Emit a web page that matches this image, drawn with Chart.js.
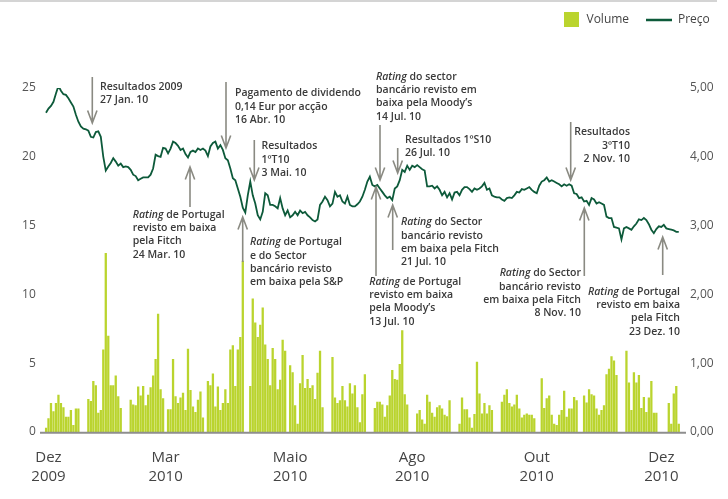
<!DOCTYPE html>
<html>
<head>
<meta charset="utf-8">
<script src="https://cdn.jsdelivr.net/npm/chart.js@4.4.1/dist/chart.umd.min.js"></script>
<style>
  html, body { margin: 0; padding: 0; background: #fff; }
  #wrap { position: relative; width: 728px; height: 499px; }
  #topRule { position: absolute; left: 0; top: 0; width: 717px; height: 2px; background: #d4d4d4; }
  #chart { position: absolute; left: 0; top: 0; }
</style>
</head>
<body>
<div id="wrap">
  <div id="topRule"></div>
  <canvas id="chart" width="728" height="499"></canvas>
</div>
<script>
// Volume (millions), one value per trading day, null where no bar is drawn
const volume = [
  0.3, 1.0, 2.1, 1.5, 2.1, 2.7, 2.1, 1.8, 1.1, 1.1, 1.6, 0.5, 1.7, 1.7, null, null, null,
  2.4, 2.25, 3.7, 3.4, 1.4, 1.6, 6.0, 13.0, 7.0, 3.4, 3.4, 4.1, 2.6, 1.75, null, null, null,
  2.35, 2.0, 1.95, 3.3, 2.65, 3.35, 1.95, 2.7, 3.25, 4.1, 5.3, 8.6, 3.1, 2.45, null,
  1.65, 1.65, 5.3, 2.6, 2.1, 2.5, 2.85, 1.6, 6.05, 3.05, 1.85, 1.45, 2.35, 2.95, 1.05, null,
  3.7, 3.4, 4.25, 1.85, 3.3, 1.6, 2.1, 3.1, 2.1,
  6.0, 6.3, 3.35, 6.0, 6.9, 12.45, null, null,
  3.35, 9.7, 7.95, 6.9, 7.8, 9.05, 6.35, 5.3, 3.4, 6.1, 5.3, 3.1, 3.8, 6.7, 5.9, null,
  4.85, 4.35, 1.95, 0.6, 3.55, 5.6, 3.2, 3.85, 3.2, 3.4, 2.4, 4.3, 5.9, 1.8, null, null, null,
  5.45, 2.5, 2.1, 2.3, 3.35, 2.3, 1.85, 3.55, 2.8, 3.4, 1.8, 0.7, 2.75, 4.2, null, null, null,
  1.75, 2.2, 2.2, 2.0, 1.1, 1.95, 2.65, 4.5, 3.85, 3.8, 4.95, 7.4, 2.75, 2.0, null, null, null,
  1.35, 1.6, 0.9, 0.6, 2.7, 2.2, 1.4, 1.1, 1.8, 1.95, 1.7, 1.25, 1.15, 2.3, null, null, null,
  0.6, 2.5, 1.65, 1.65, 1.05, 0.3, 1.3, 5.1,
  2.8, 1.35, 2.1, 1.35, 1.95, 1.6, null, null, null,
  2.2, 2.7, 3.1, 2.1, 1.85, 2.0, 2.7, 1.7, 1.05, 1.25, 1.35, 1.25, 1.25, 1.0, null, null,
  3.9, 1.75, 2.45, 2.65, 1.25, 0.6, 0.5, 1.25, 1.6, 3.0, 1.1, 1.7, 1.7, 2.55, 2.3, null, null,
  2.65, 2.15, 3.1, 2.75, 2.65, 1.7, 1.25, 1.6, 1.95, 4.2, 4.6, 5.5, 5.2, 4.15, null, null, null,
  5.9, 3.6, 1.6, 4.35, 3.6, 4.15, 1.75, 2.55, 1.45, 2.5, 3.7, 1.4, 1.4, null, null, null, null,
  2.1, 0.6, 2.8, 3.35, 0.6
];

// Share price (EUR), same days
const price = [
  4.64, 4.70, 4.74, 4.80, 4.92, 5.03, 4.96, 4.91, 4.90, 4.85,
  4.79, 4.73, 4.61, 4.51, 4.44, 4.41, 4.40, 4.38, 4.29, 4.28,
  4.36, 4.37, 4.29, 4.00, 3.80, 3.86, 3.91, 3.98, 3.93, 3.87,
  3.90, 3.85, 3.86, 3.85, 3.81, 3.74, 3.72, 3.66, 3.68, 3.70,
  3.70, 3.70, 3.74, 3.83, 4.03, 4.01, 4.00, 4.13, 4.12, 4.05,
  4.12, 4.22, 4.20, 4.16, 4.10, 4.12, 4.04, 3.99, 4.07, 4.09,
  4.07, 4.12, 4.10, 4.12, 4.09, 4.01, 4.15, 4.20, 4.22, 4.12,
  4.17, 4.10, 3.98, 3.95, 3.83, 3.69, 3.66, 3.54, 3.42, 3.26,
  3.19, 3.44, 3.64, 3.44, 3.32, 3.15, 3.09, 3.20, 3.47, 3.44,
  3.30, 3.30, 3.28, 3.25, 3.40, 3.25, 3.15, 3.22, 3.12, 3.15,
  3.20, 3.15, 3.22, 3.18, 3.20, 3.15, 3.12, 3.08, 3.06, 3.09,
  3.30, 3.35, 3.42, 3.37, 3.28, 3.32, 3.49, 3.42, 3.44, 3.35,
  3.32, 3.42, 3.30, 3.28, 3.28, 3.31, 3.35, 3.42, 3.52, 3.64,
  3.71, 3.59, 3.57, 3.59, 3.54, 3.49, 3.44, 3.40, 3.42, 3.37,
  3.54, 3.57, 3.66, 3.81, 3.78, 3.87, 3.81, 3.87, 3.85, 3.88,
  3.85, 3.82, 3.80, 3.57, 3.57, 3.58, 3.54, 3.57, 3.52, 3.44,
  3.49, 3.41, 3.47, 3.38, 3.48, 3.49, 3.44, 3.52, 3.56, 3.56,
  3.53, 3.49, 3.54, 3.52, 3.54, 3.57, 3.62, 3.52, 3.54, 3.44,
  3.42, 3.41, 3.41, 3.38, 3.36, 3.40, 3.41, 3.40, 3.44, 3.49,
  3.48, 3.53, 3.52, 3.54, 3.56, 3.52, 3.49, 3.47, 3.58, 3.64,
  3.66, 3.70, 3.64, 3.66, 3.64, 3.62, 3.60, 3.57, 3.60, 3.58,
  3.60, 3.58, 3.47, 3.46, 3.40, 3.41, 3.35, 3.36, 3.30, 3.40,
  3.38, 3.32, 3.34, 3.32, 3.30, 3.13, 3.11, 3.11, 2.98, 2.97,
  2.96, 2.80, 2.96, 2.98, 2.96, 2.94, 2.99, 3.03, 3.09, 3.08,
  3.11, 3.08, 3.02, 2.94, 2.89, 2.95, 2.99, 2.98, 3.01, 2.96,
  2.95, 2.94, 2.93, 2.91, 2.91
];

const days = volume.map((v, i) => i + 1);

// x-axis labels and the day they sit under
const xTickIndex = [1, 48, 98, 147, 197, 247];
const xTickLabels = [['Dez', '2009'], ['Mar', '2010'], ['Maio', '2010'], ['Ago', '2010'], ['Out', '2010'], ['Dez', '2010']];

const BAR = '#bad42e';
const LINE = '#0d5a3a';
const ARROW = '#8a8a82';
const FONT = "'Open Sans', 'Noto Sans', sans-serif";

// event notes: arrow x, arrow tail/tip y, text anchor
const notes = [
  { x: 92.3, tail: 77, tip: 123, tx: 100, ty: 87, align: 'left', lines: ['Resultados 2009', '27 Jan. 10'] },
  { x: 226, tail: 82, tip: 148, tx: 235, ty: 93.5, align: 'left', lines: ['Pagamento de dividendo', '0,14 Eur por acção', '16 Abr. 10'] },
  { x: 254.3, tail: 140, tip: 180, tx: 261.5, ty: 146.5, align: 'left', lines: ['Resultados', '1ºT10', '3 Mai. 10'] },
  { x: 380, tail: 125, tip: 180, tx: 376, ty: 77, align: 'left', lines: ['Rating do sector', 'bancário revisto em', 'baixa pela Moody’s', '14 Jul. 10'] },
  { x: 397.7, tail: 148, tip: 173, tx: 405, ty: 140, align: 'left', lines: ['Resultados 1ºS10', '26 Jul. 10'] },
  { x: 570.7, tail: 122, tip: 180, tx: 630, ty: 132.5, align: 'right', lines: ['Resultados', '3ºT10', '2 Nov. 10'] },
  { x: 190, tail: 207, tip: 167, tx: 132.7, ty: 215, align: 'left', lines: ['Rating de Portugal', 'revisto em baixa', 'pela Fitch', '24 Mar. 10'] },
  { x: 242.7, tail: 262, tip: 217, tx: 250, ty: 242.5, align: 'left', lines: ['Rating de Portugal', 'e do Sector', 'bancário revisto', 'em baixa pela S&P'] },
  { x: 376, tail: 276, tip: 187, tx: 369.3, ty: 282, align: 'left', lines: ['Rating de Portugal', 'revisto em baixa', 'pela Moody’s', '13 Jul. 10'] },
  { x: 392.7, tail: 250, tip: 205, tx: 401, ty: 222.5, align: 'left', lines: ['Rating do Sector', 'bancário revisto', 'em baixa pela Fitch', '21 Jul. 10'] },
  { x: 584.3, tail: 276, tip: 208, tx: 581, ty: 273.5, align: 'right', lines: ['Rating do Sector', 'bancário revisto', 'em baixa pela Fitch', '8 Nov. 10'] },
  { x: 662.7, tail: 275, tip: 237, tx: 680, ty: 292, align: 'right', lines: ['Rating de Portugal', 'revisto em baixa', 'pela Fitch', '23 Dez. 10'] }
];

function noteFont(italic) {
  return (italic ? 'italic ' : '') + '600 10.5px ' + FONT;
}

function drawNoteLine(ctx, s, x, y, align) {
  const parts = s.startsWith('Rating') ? [['Rating', true], [s.slice(6), false]] : [[s, false]];
  let w = 0;
  parts.forEach(p => { ctx.font = noteFont(p[1]); w += ctx.measureText(p[0]).width; });
  let cx = align === 'right' ? x - w : x;
  parts.forEach(p => {
    ctx.font = noteFont(p[1]);
    ctx.fillText(p[0], cx, y);
    cx += ctx.measureText(p[0]).width;
  });
}

const extras = {
  id: 'extras',
  afterDatasetsDraw(chart) {
    const ctx = chart.ctx;
    const y0 = chart.scales.y.getPixelForValue(0);
    ctx.save();
    // baseline
    ctx.strokeStyle = '#8e8e8e';
    ctx.lineWidth = 2;
    ctx.beginPath();
    ctx.moveTo(40, y0 + 0.7);
    ctx.lineTo(686, y0 + 0.7);
    ctx.stroke();

    // arrows + notes
    ctx.strokeStyle = ARROW;
    ctx.lineWidth = 1.6;
    ctx.fillStyle = '#3a3a3a';
    ctx.textAlign = 'left';
    ctx.textBaseline = 'middle';
    notes.forEach(n => {
      const d = n.tip > n.tail ? 1 : -1;
      ctx.beginPath();
      ctx.moveTo(n.x, n.tail);
      ctx.lineTo(n.x, n.tip);
      ctx.moveTo(n.x - 4.7, n.tip - d * 12.5);
      ctx.lineTo(n.x, n.tip);
      ctx.lineTo(n.x + 4.7, n.tip - d * 12.5);
      ctx.stroke();
      n.lines.forEach((s, i) => drawNoteLine(ctx, s, n.tx, n.ty + i * 13.2, n.align));
    });

    // legend
    ctx.fillStyle = BAR;
    ctx.fillRect(564, 12, 15, 15);
    ctx.fillStyle = '#444';
    ctx.font = '12px ' + FONT;
    ctx.fillText('Volume', 586.5, 20);
    ctx.strokeStyle = LINE;
    ctx.lineWidth = 2.5;
    ctx.beginPath();
    ctx.moveTo(646, 20);
    ctx.lineTo(672, 20);
    ctx.stroke();
    ctx.fillText('Preço', 678, 20);
    ctx.restore();
  }
};

new Chart(document.getElementById('chart'), {
  data: {
    labels: days,
    datasets: [
      {
        type: 'line', label: 'Preço', data: price, yAxisID: 'y1',
        borderColor: LINE, borderWidth: 1.8, pointRadius: 0, tension: 0
      },
      {
        type: 'bar', label: 'Volume', data: volume, yAxisID: 'y',
        backgroundColor: BAR, barPercentage: 0.92, categoryPercentage: 1
      }
    ]
  },
  options: {
    responsive: false,
    animation: false,
    devicePixelRatio: 1,
    layout: { padding: { top: 88, left: 0, right: 0, bottom: 0 } },
    plugins: { legend: { display: false }, tooltip: { enabled: false } },
    scales: {
      x: {
        offset: true,
        grid: { display: false, drawTicks: false },
        border: { display: false },
        ticks: {
          autoSkip: false, maxRotation: 0, minRotation: 0, padding: 16,
          color: '#444', font: { family: FONT, size: 15, lineHeight: 1.27 },
          callback: (v, i) => {
            const k = xTickIndex.indexOf(i);
            return k >= 0 ? xTickLabels[k] : '';
          }
        },
        afterFit(s) { s.height = 67; }
      },
      y: {
        position: 'left', min: 0, max: 25,
        grid: { display: false, drawTicks: false },
        border: { display: false },
        ticks: { stepSize: 5, padding: 9, color: '#555', font: { family: FONT, size: 12 } },
        afterFit(s) { s.width = 44.75; }
      },
      y1: {
        position: 'right', min: 0, max: 5,
        grid: { display: false, drawTicks: false },
        border: { display: false },
        ticks: {
          stepSize: 1, padding: 10, color: '#555', font: { family: FONT, size: 12 },
          callback: v => v.toFixed(2).replace('.', ',')
        },
        afterFit(s) { s.width = 48; }
      }
    }
  },
  plugins: [extras]
});
</script>
</body>
</html>
